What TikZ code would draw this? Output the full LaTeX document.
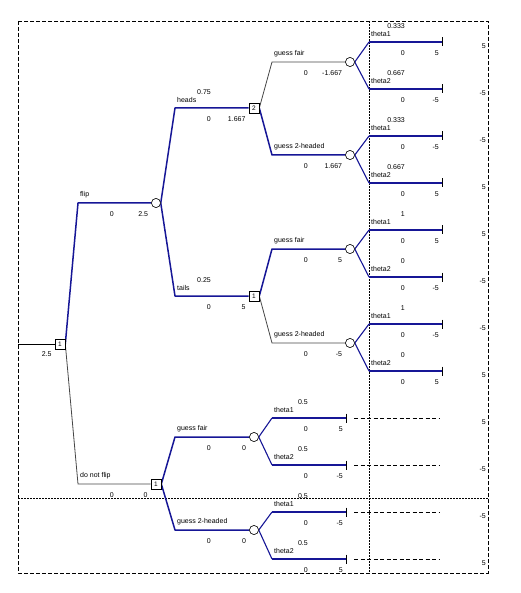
\documentclass[tikz,border=0pt]{standalone}
\usepackage{fontspec}
\setmainfont{Liberation Sans}
\usetikzlibrary{calc}
\definecolor{optblue}{RGB}{22,22,150}
\definecolor{subgray}{RGB}{70,70,70}
\tikzset{
  opt/.style={draw=optblue, line width=1.5pt, line join=round},
  optthin/.style={draw=optblue, line width=1.1pt, line join=round},
  sub/.style={draw=subgray, line width=0.8pt},
  lbl/.style={font=\fontsize{7}{8}\selectfont, inner sep=0pt, text=black},
  decnode/.style={draw=black, fill=white, line width=0.6pt, minimum size=10pt, inner sep=0pt, font=\fontsize{6.5}{6.5}\selectfont},
  chnode/.style={circle, draw=black, fill=white, line width=0.5pt, minimum size=9pt, inner sep=0pt},
  tick/.style={draw=black, line width=0.8pt},
  frame/.style={draw=black, line width=0.6pt, dash pattern=on 4pt off 2pt},
  divider/.style={draw=black, line width=0.6pt, dash pattern=on 2pt off 1pt},
  trail/.style={draw=black, line width=0.6pt, dash pattern=on 4pt off 2.5pt},
}
% #1 corner, #2 end anchor, #3 name, #4 left value, #5 right value
\newcommand\declab[5]{%
  \node[lbl, anchor=west] (#1-n) at ($(#1)+(2,-8)$) {#3};
  \node[lbl, anchor=east] (#1-a) at ($(#1)+(36,11)$) {#4};
  \node[lbl, anchor=east] (#1-b) at ($(#2)+(-3,11)$) {#5};
}
% #1 corner, #2 end anchor, #3 name, #4 prob, #5 left value, #6 right value
\newcommand\chanlab[6]{%
  \node[lbl, anchor=east] (#1-p) at ($(#1)+(36,-16)$) {#4};
  \declab{#1}{#2}{#3}{#5}{#6}
}
\begin{document}
\begin{tikzpicture}[x=1pt, y=-1pt]
\useasboundingbox (0,0) rectangle (520,593);
% frame and dividers
\draw[frame] (18,21) rectangle (488,573);
\draw[divider] (369,21) -- (369,573);
\draw[divider] (18,498) -- (488,498);

% corners
\coordinate (s0) at (18,344);
\coordinate (kflip) at (78,203);
\coordinate (knf) at (78,484);
\coordinate (kheads) at (175,108);
\coordinate (ktails) at (175,296);
\coordinate (kd1f) at (272,62);
\coordinate (kd1h) at (272,155);
\coordinate (kd2f) at (272,249);
\coordinate (kd2h) at (272,343);
\coordinate (kd3f) at (175,437);
\coordinate (kd3h) at (175,530);
\coordinate (ka1) at (369,42);  \coordinate (t1) at (442,42);
\coordinate (ka2) at (369,89);  \coordinate (t2) at (442,89);
\coordinate (kb1) at (369,136); \coordinate (t3) at (442,136);
\coordinate (kb2) at (369,183); \coordinate (t4) at (442,183);
\coordinate (kc1) at (369,230); \coordinate (t5) at (442,230);
\coordinate (kc2) at (369,277); \coordinate (t6) at (442,277);
\coordinate (kd1) at (369,324); \coordinate (t7) at (442,324);
\coordinate (kd2) at (369,371); \coordinate (t8) at (442,371);
\coordinate (ke1) at (272,418); \coordinate (t9) at (346,418);
\coordinate (ke2) at (272,465); \coordinate (t10) at (346,465);
\coordinate (kf1) at (272,512); \coordinate (t11) at (346,512);
\coordinate (kf2) at (272,559); \coordinate (t12) at (346,559);

% node placeholders (drawn again on top)
\path (60,344) node[decnode] (d0) {1};
\path (156,203) node[chnode] (c1) {};
\path (156,484) node[decnode] (d3) {1};
\path (254,108) node[decnode] (d1) {2};
\path (254,296) node[decnode] (d2) {1};
\path (350,62) node[chnode] (c2) {};
\path (350,155) node[chnode] (c3) {};
\path (350,249) node[chnode] (c4) {};
\path (350,343) node[chnode] (c5) {};
\path (254,437) node[chnode] (c6) {};
\path (254,530) node[chnode] (c7) {};

% branches
\draw[draw=black, line width=0.7pt] (s0) -- (d0.west);
\draw[opt] (d0.east) -- (kflip) -- (c1.west);
\draw[sub] (d0.east) -- (knf) -- (d3.west);
\draw[opt] (c1.east) -- (kheads) -- (d1.west);
\draw[opt] (c1.east) -- (ktails) -- (d2.west);
\draw[sub] (d1.east) -- (kd1f) -- (c2.west);
\draw[opt] (d1.east) -- (kd1h) -- (c3.west);
\draw[opt] (d2.east) -- (kd2f) -- (c4.west);
\draw[sub] (d2.east) -- (kd2h) -- (c5.west);
\draw[opt] (d3.east) -- (kd3f) -- (c6.west);
\draw[opt] (d3.east) -- (kd3h) -- (c7.west);
\foreach \c/\a/\b/\ta/\tb in {c2/ka1/ka2/t1/t2, c3/kb1/kb2/t3/t4, c4/kc1/kc2/t5/t6, c5/kd1/kd2/t7/t8, c6/ke1/ke2/t9/t10, c7/kf1/kf2/t11/t12}{
  \draw[optthin] (\c.east) -- (\a);
  \draw[opt] (\a) -- (\ta);
  \draw[optthin] (\c.east) -- (\b);
  \draw[opt] (\b) -- (\tb);
}
% terminal ticks
\foreach \t in {t1,t2,t3,t4,t5,t6,t7,t8,t9,t10,t11,t12}{
  \draw[tick] ($(\t)+(0,-4.5)$) -- ($(\t)+(0,4.5)$);
}
% trailing dashed lines of the lower terminals
\foreach \t in {t9,t10,t11,t12}{
  \draw[trail] ($(\t)+(8,0)$) -- ($(\t)+(94,0)$);
}

% nodes on top
\node[decnode] at (d0) {1};
\node[chnode] at (c1) {};
\node[decnode] at (d3) {1};
\node[decnode] at (d1) {2};
\node[decnode] at (d2) {1};
\foreach \c in {c2,c3,c4,c5,c6,c7}{ \node[chnode] at (\c) {}; }

% labels
\node[lbl, anchor=east] (rootval) at ($(d0.west)+(-3,10)$) {2.5};
\declab{kflip}{c1.west}{flip}{0}{2.5}
\declab{knf}{d3.west}{do not flip}{0}{0}
\chanlab{kheads}{d1.west}{heads}{0.75}{0}{1.667}
\chanlab{ktails}{d2.west}{tails}{0.25}{0}{5}
\declab{kd1f}{c2.west}{guess fair}{0}{-1.667}
\declab{kd1h}{c3.west}{guess 2-headed}{0}{1.667}
\declab{kd2f}{c4.west}{guess fair}{0}{5}
\declab{kd2h}{c5.west}{guess 2-headed}{0}{-5}
\declab{kd3f}{c6.west}{guess fair}{0}{0}
\declab{kd3h}{c7.west}{guess 2-headed}{0}{0}
\chanlab{ka1}{t1}{theta1}{0.333}{0}{5}
\chanlab{ka2}{t2}{theta2}{0.667}{0}{-5}
\chanlab{kb1}{t3}{theta1}{0.333}{0}{-5}
\chanlab{kb2}{t4}{theta2}{0.667}{0}{5}
\chanlab{kc1}{t5}{theta1}{1}{0}{5}
\chanlab{kc2}{t6}{theta2}{0}{0}{-5}
\chanlab{kd1}{t7}{theta1}{1}{0}{-5}
\chanlab{kd2}{t8}{theta2}{0}{0}{5}
\chanlab{ke1}{t9}{theta1}{0.5}{0}{5}
\chanlab{ke2}{t10}{theta2}{0.5}{0}{-5}
\chanlab{kf1}{t11}{theta1}{0.5}{0}{-5}
\chanlab{kf2}{t12}{theta2}{0.5}{0}{5}

% payoff column
\foreach \y/\v [count=\i] in {42/5,89/-5,136/-5,183/5,230/5,277/-5,324/-5,371/5,418/5,465/-5,512/-5,559/5}{
  \node[lbl, anchor=east] (pay\i) at (486,\y+4) {\v};
}
\end{tikzpicture}
\end{document}
